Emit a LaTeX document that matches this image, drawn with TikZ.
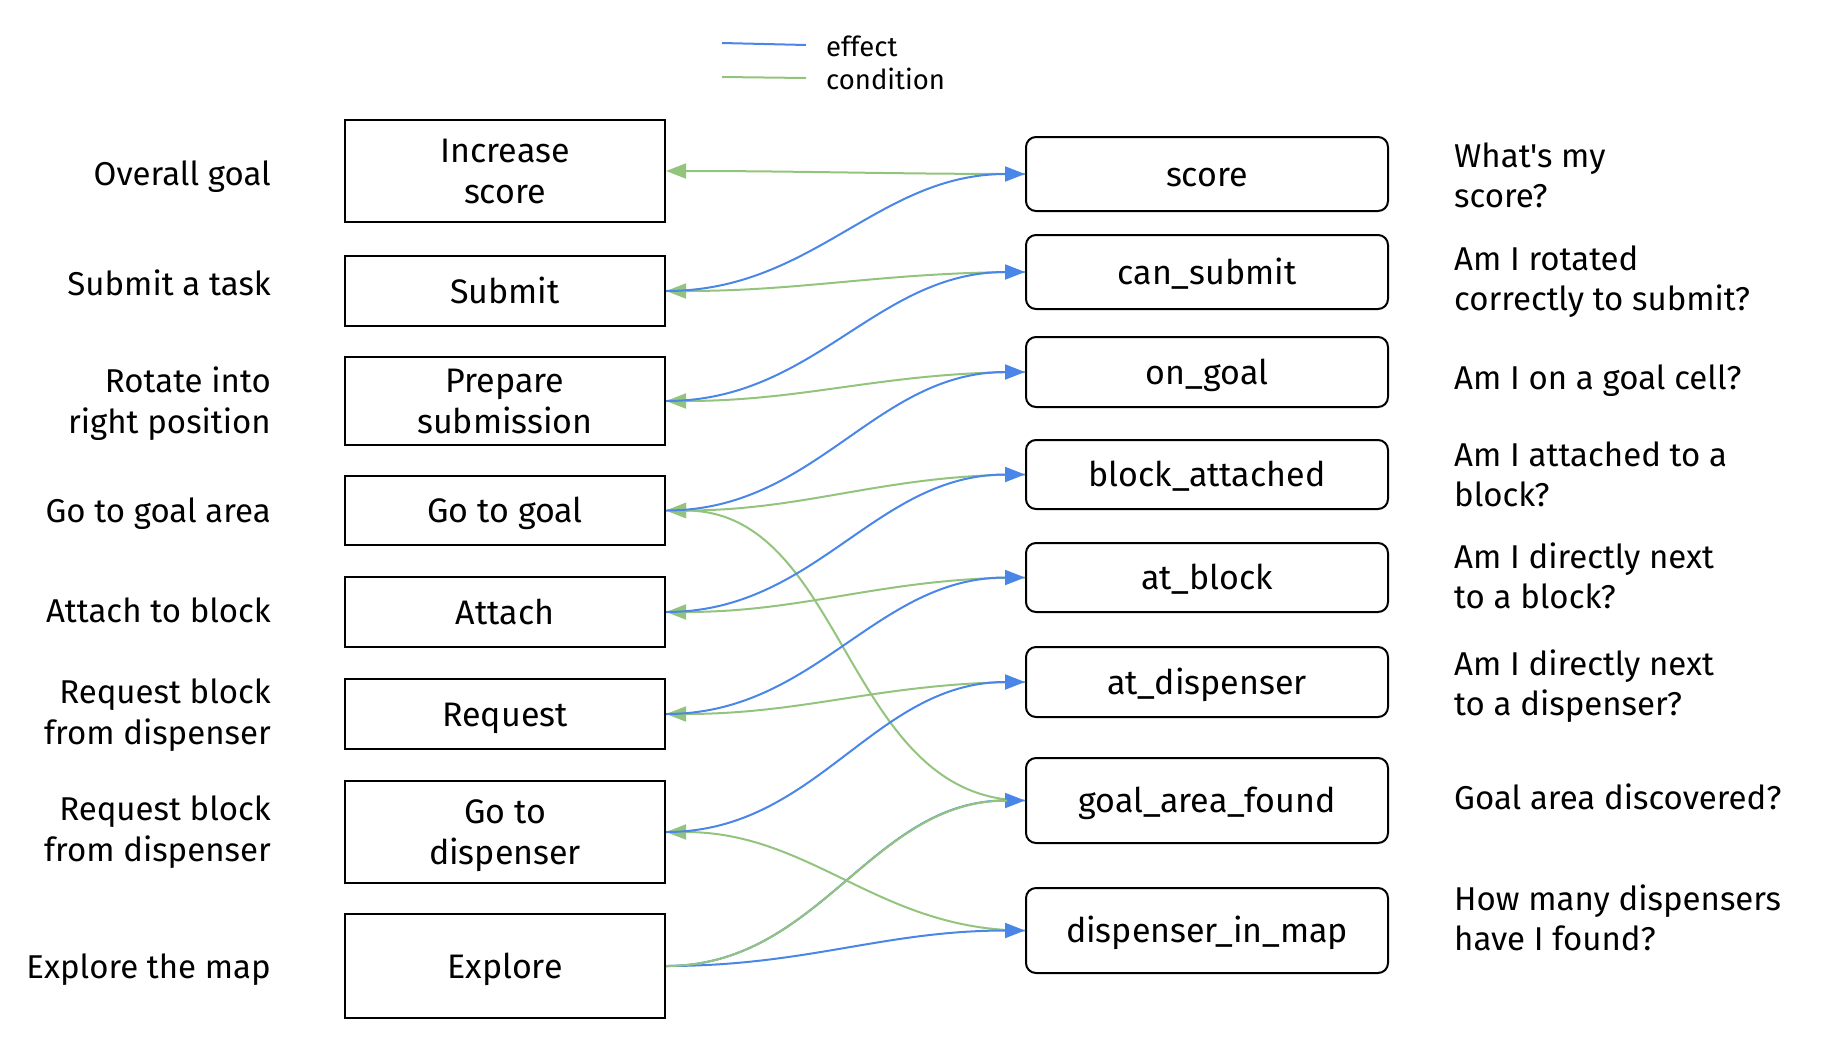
\documentclass[tikz,border=0pt]{standalone}
\usepackage{fontspec}
\setmainfont{Fira Sans}[Ligatures=TeXOff]
\usetikzlibrary{arrows.meta}
\definecolor{effblue}{HTML}{4A86E8}
\definecolor{condgreen}{HTML}{93C47D}
\newcommand{\bxs}{\rule[-8.5pt]{0pt}{41pt}}
\begin{document}
\begin{tikzpicture}[x=1pt,y=-1pt,
  act/.style={draw=black, line width=2pt, minimum width=320pt, inner sep=0pt},
  pred/.style={draw=black, line width=2pt, rounded corners=10pt, minimum width=362pt, inner sep=0pt},
  boxlbl/.style={align=center, inner sep=0pt, font=\fontsize{34}{41}\selectfont},
  lefttxt/.style={anchor=east, align=right, inner sep=0pt, font=\fontsize{33}{41}\selectfont},
  righttxt/.style={anchor=west, align=left, inner sep=0pt, font=\fontsize{33}{40}\selectfont},
  legtxt/.style={anchor=west, inner sep=0pt, font=\fontsize{27.5}{32}\selectfont},
  eff/.style={draw=effblue, line width=2pt, -{Triangle[length=20pt,width=15pt]}},
  cond/.style={draw=condgreen, line width=2pt, -{Triangle[length=20pt,width=15pt]}},
  condline/.style={draw=condgreen, line width=2pt, shorten >=18pt},
]
\useasboundingbox (0,0) rectangle (1822,1042);

% legend
\coordinate (lb1) at (722,43);
\coordinate (lb2) at (806,45);
\coordinate (lg1) at (722,77);
\coordinate (lg2) at (806,78);
\draw[draw=effblue, line width=2pt] (lb1) -- (lb2);
\draw[draw=condgreen, line width=2pt] (lg1) -- (lg2);
\node[legtxt] (legeff) at (826,46) {effect};
\node[legtxt] (legcond) at (826,79) {condition};

% action boxes
\node[act, minimum height=102pt] (inc) at (505,171) {};
\node[act, minimum height=70pt] (sub) at (505,291) {};
\node[act, minimum height=88pt] (prep) at (505,401) {};
\node[act, minimum height=69pt] (ggoal) at (505,510.5) {};
\node[act, minimum height=70pt] (att) at (505,612) {};
\node[act, minimum height=70pt] (req) at (505,714) {};
\node[act, minimum height=102pt] (gdisp) at (505,832) {};
\node[act, minimum height=104pt] (expl) at (505,966) {};
\node[boxlbl] (inc-t) at (inc.center) {\bxs Increase\\\bxs score};
\node[boxlbl] (sub-t) at (sub.center) {\bxs Submit};
\node[boxlbl] (prep-t) at (prep.center) {\bxs Prepare\\\bxs submission};
\node[boxlbl] (ggoal-t) at (ggoal.center) {\bxs Go to goal};
\node[boxlbl] (att-t) at (att.center) {\bxs Attach};
\node[boxlbl] (req-t) at (req.center) {\bxs Request};
\node[boxlbl] (gdisp-t) at (gdisp.center) {\bxs Go to\\\bxs dispenser};
\node[boxlbl] (expl-t) at (expl.center) {\bxs Explore};

% predicate boxes
\node[pred, minimum height=74pt] (score) at (1207,174) {};
\node[pred, minimum height=74pt] (cansub) at (1207,272) {};
\node[pred, minimum height=70pt] (ongoal) at (1207,372) {};
\node[pred, minimum height=69pt] (batt) at (1207,474.5) {};
\node[pred, minimum height=69pt] (atblock) at (1207,577.5) {};
\node[pred, minimum height=70pt] (atdisp) at (1207,682) {};
\node[pred, minimum height=85pt] (gaf) at (1207,800.5) {};
\node[pred, minimum height=85pt] (dim) at (1207,930.5) {};
\node[boxlbl] (score-t) at (score.center) {\bxs score};
\node[boxlbl] (cansub-t) at (cansub.center) {\bxs can\_submit};
\node[boxlbl] (ongoal-t) at (ongoal.center) {\bxs on\_goal};
\node[boxlbl] (batt-t) at (batt.center) {\bxs block\_attached};
\node[boxlbl] (atblock-t) at (atblock.center) {\bxs at\_block};
\node[boxlbl] (atdisp-t) at (atdisp.center) {\bxs at\_dispenser};
\node[boxlbl] (gaf-t) at (gaf.center) {\bxs goal\_area\_found};
\node[boxlbl] (dim-t) at (dim.center) {\bxs dispenser\_in\_map};

% left descriptions
\node[lefttxt] (l1) at (271,177) {Overall goal};
\node[lefttxt] (l2) at (271,283) {Submit a task};
\node[lefttxt] (l3) at (271,404) {Rotate into\\right position};
\node[lefttxt] (l4) at (271,514) {Go to goal area};
\node[lefttxt] (l5) at (271,610.5) {Attach to block};
\node[lefttxt] (l6) at (271,715) {Request block\\from dispenser};
\node[lefttxt] (l7) at (271,832) {Request block\\from dispenser};
\node[lefttxt] (l8) at (271,970) {Explore the map};

% right descriptions
\node[righttxt] (r1) at (1454,175.5) {What's my\\score?};
\node[righttxt] (r2) at (1454,281.5) {Am I rotated\\correctly to submit?};
\node[righttxt] (r3) at (1454,380.5) {Am I on a goal cell?};
\node[righttxt] (r4) at (1454,474) {Am I attached to a\\block?};
\node[righttxt] (r5) at (1454,576) {Am I directly next\\to a block?};
\node[righttxt] (r6) at (1454,686.5) {Am I directly next\\to a dispenser?};
\node[righttxt] (r7) at (1454,797) {Goal area discovered?};
\node[righttxt] (r8) at (1454,918) {How many dispensers\\have I found?};

% conditions (green)
\draw[cond] (score.west) to[out=180,in=0] (inc.east);
\draw[cond] (cansub.west) to[out=180,in=0] (sub.east);
\draw[cond] (ongoal.west) to[out=180,in=0] (prep.east);
\draw[cond] (batt.west) to[out=180,in=0] (ggoal.east);
\draw[cond] (gaf.west) to[out=180,in=0] (ggoal.east);
\draw[cond] (atblock.west) to[out=180,in=0] (att.east);
\draw[cond] (atdisp.west) to[out=180,in=0] (req.east);
\draw[cond] (dim.west) to[out=180,in=0] (gdisp.east);

% effects (blue)
\draw[eff] (sub.east) to[out=0,in=180] (score.west);
\draw[eff] (prep.east) to[out=0,in=180] (cansub.west);
\draw[eff] (ggoal.east) to[out=0,in=180] (ongoal.west);
\draw[eff] (att.east) to[out=0,in=180] (batt.west);
\draw[eff] (req.east) to[out=0,in=180] (atblock.west);
\draw[eff] (gdisp.east) to[out=0,in=180] (atdisp.west);
\draw[eff] (expl.east) to[out=0,in=180] (dim.west);
\draw[eff] (expl.east) to[out=0,in=180] (gaf.west);
\draw[condline] (expl.east) to[out=0,in=180] (gaf.west);
\end{tikzpicture}
\end{document}
